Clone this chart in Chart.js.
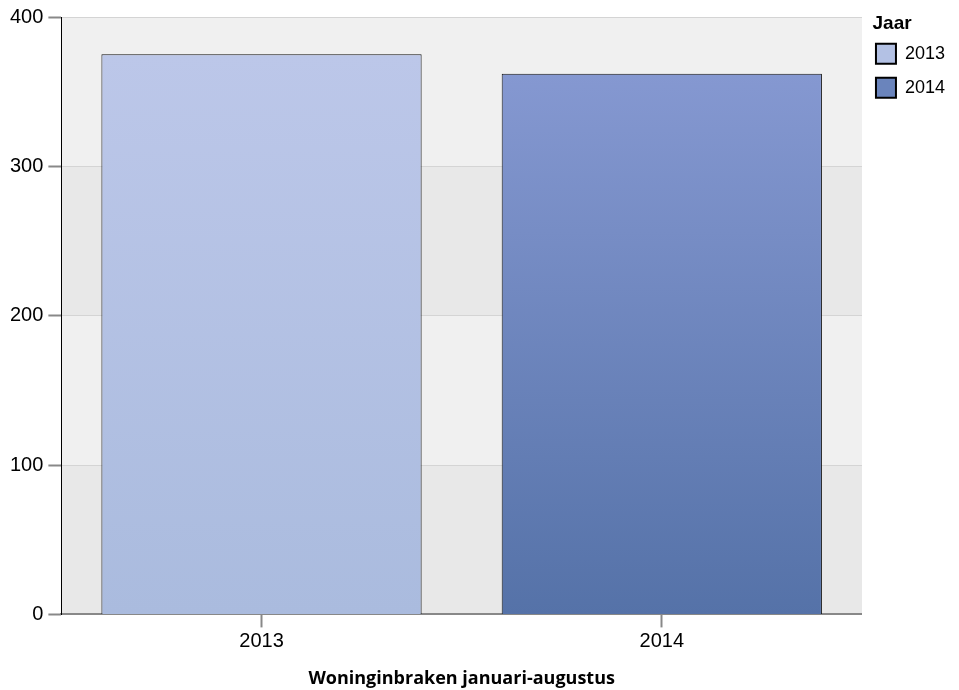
<!DOCTYPE html>
<html>
<head>
<meta charset="utf-8">
<script src="https://cdn.jsdelivr.net/npm/chart.js@4.4.0/dist/chart.umd.min.js"></script>
<style>
  html, body { margin: 0; padding: 0; background: #fff; }
  #wrap { width: 959px; height: 690px; }
</style>
</head>
<body>
<div id="wrap"><canvas id="woning-canvas"></canvas></div>
<script>
// ========== Data
let jaren = ['2013', '2014'];
let inbraken = [375, 362];
let yTicks = [0, 100, 200, 300, 400];

// ========== Colors
let kleur2013 = ['#bcc7e9', '#aabbde'];
let kleur2014 = ['#8598d1', '#5572a8'];
let legendKleur = ['#b3c1e4', '#6a84bc'];

function barGradient(colors) {
    return function (ctx) {
        let chart = ctx.chart;
        if (!chart.chartArea || ctx.raw == null) return colors[1];
        let y = chart.scales.y;
        let g = chart.ctx.createLinearGradient(0, y.getPixelForValue(ctx.raw), 0, y.getPixelForValue(0));
        g.addColorStop(0, colors[0]);
        g.addColorStop(1, colors[1]);
        return g;
    };
}

// banded background behind the bars
let bandPlugin = {
    id: 'bands',
    beforeDraw(chart) {
        let {ctx, chartArea, scales} = chart;
        ctx.save();
        for (let i = 0; i < yTicks.length - 1; i++) {
            let top = scales.y.getPixelForValue(yTicks[i + 1]);
            let bottom = scales.y.getPixelForValue(yTicks[i]);
            ctx.fillStyle = i % 2 === 0 ? '#e8e8e8' : '#f0f0f0';
            ctx.fillRect(chartArea.left, top, chartArea.right - chartArea.left, bottom - top);
        }
        ctx.restore();
    }
};

let woningData = {
    labels: jaren,
    datasets: jaren.map((j, i) => ({
        label: j,
        data: jaren.map((_, k) => k === i ? inbraken[i] : null),
        backgroundColor: barGradient(i === 0 ? kleur2013 : kleur2014),
        borderColor: '#111',
        borderWidth: 1,
        barPercentage: 0.8,
        categoryPercentage: 1
    }))
};

var woningCanvas = document.getElementById('woning-canvas');
var myBarChart = new Chart(woningCanvas, {
    type: 'bar',
    data: woningData,
    plugins: [bandPlugin],
    options: {
        responsive: true,
        maintainAspectRatio: false,
        animation: false,
        layout: { padding: { top: 10, right: 4, left: 5, bottom: 0 } },
        scales: {
            x: {
                stacked: true,
                grid: { drawOnChartArea: false, offset: false, tickLength: 13, tickColor: '#888', tickWidth: 2 },
                border: { color: '#888', width: 2 },
                ticks: { color: '#000', font: { family: 'Liberation Sans', size: 20 }, padding: 2 },
                title: {
                    display: true,
                    text: 'Woninginbraken januari-augustus',
                    color: '#000',
                    font: { family: 'Open Sans', size: 18, weight: '700' },
                    padding: { top: 13, bottom: 0 }
                }
            },
            y: {
                stacked: true,
                min: 0,
                max: 400,
                afterBuildTicks(axis) { axis.ticks = yTicks.map(v => ({ value: v })); },
                grid: { color: '#d4d4d4', tickColor: '#888', tickLength: 13, tickWidth: 2 },
                border: { color: '#000', width: 1 },
                ticks: { color: '#000', font: { family: 'Liberation Sans', size: 20 }, padding: 5 }
            }
        },
        plugins: {
            legend: {
                position: 'right',
                align: 'start',
                title: {
                    display: true,
                    position: 'start',
                    text: '  Jaar',
                    color: '#000',
                    font: { family: 'Liberation Sans', size: 19, weight: 'bold' },
                    padding: { top: 4, bottom: -7 }
                },
                labels: {
                    color: '#000',
                    boxWidth: 20,
                    boxHeight: 20,
                    padding: 14,
                    font: { family: 'Liberation Sans', size: 18 },
                    generateLabels(chart) {
                        return jaren.map((j, i) => ({
                            text: j,
                            fillStyle: legendKleur[i],
                            strokeStyle: '#000',
                            lineWidth: 2,
                            fontColor: '#000',
                            datasetIndex: i
                        }));
                    }
                }
            },
            tooltip: { enabled: false }
        }
    }
});
</script>
</body>
</html>
